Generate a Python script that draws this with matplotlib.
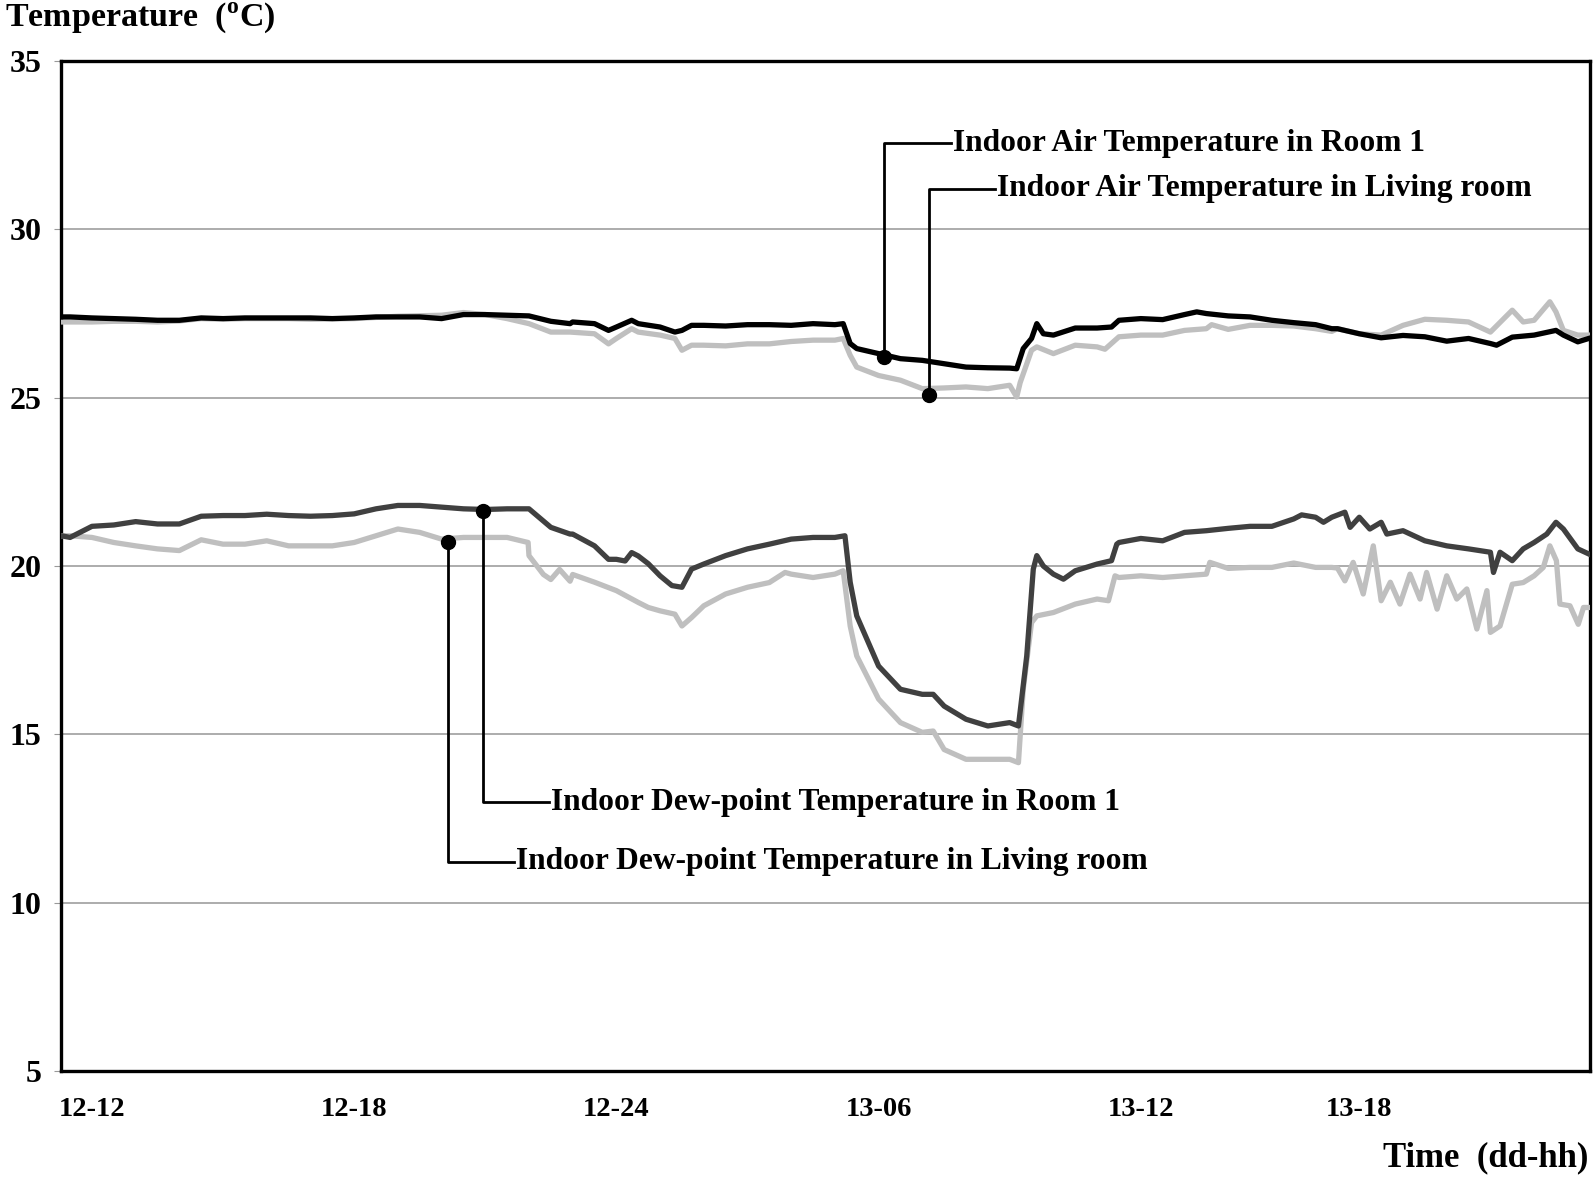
import matplotlib
matplotlib.use("Agg")
import matplotlib.pyplot as plt

plt.rcParams['font.family'] = ['Liberation Serif', 'DejaVu Serif']
plt.rcParams['font.weight'] = 'bold'
plt.rcParams['mathtext.fontset'] = 'custom'
plt.rcParams['mathtext.rm'] = 'Liberation Serif:bold'
plt.rcParams['mathtext.bf'] = 'Liberation Serif:bold'

# time in hours after 12-12 (day 12, 12 h)
air_room1_t = [-0.7, -0.5, 0, 0.5, 1, 1.5, 2, 2.5, 3, 3.5,
               4, 4.5, 5, 5.5, 6, 6.5, 7, 7.5, 8, 8.5,
               9, 9.5, 10, 10.5, 10.94, 11, 11.5, 11.82, 12, 12.35,
               12.5, 13, 13.34, 13.5, 13.72, 14, 14.5, 15, 15.5, 16,
               16.5, 17, 17.19, 17.35, 17.5, 18, 18.5, 19, 19.5, 20,
               20.5, 21, 21.16, 21.31, 21.5, 21.62, 21.77, 22, 22.5, 23,
               23.33, 23.5, 24, 24.5, 25, 25.28, 25.5, 26, 26.5, 27,
               27.5, 28, 28.37, 28.5, 29, 29.5, 30, 30.5, 31, 31.5,
               32, 32.14, 32.5, 33, 33.5, 33.67, 34, 34.25]
air_room1 = [27.40, 27.40, 27.37, 27.35, 27.33, 27.30, 27.30, 27.37, 27.35, 27.37,
             27.37, 27.37, 27.37, 27.35, 27.37, 27.40, 27.40, 27.40, 27.35, 27.47,
             27.47, 27.45, 27.43, 27.27, 27.20, 27.25, 27.20, 27.00, 27.10, 27.30,
             27.20, 27.10, 26.95, 27.00, 27.15, 27.15, 27.13, 27.17, 27.17, 27.15,
             27.20, 27.17, 27.20, 26.61, 26.46, 26.31, 26.16, 26.11, 26.01, 25.91,
             25.89, 25.88, 25.86, 26.46, 26.76, 27.20, 26.90, 26.86, 27.07, 27.07,
             27.10, 27.30, 27.35, 27.32, 27.47, 27.55, 27.50, 27.43, 27.40, 27.30,
             27.23, 27.17, 27.05, 27.05, 26.90, 26.78, 26.85, 26.81, 26.68, 26.76,
             26.61, 26.56, 26.80, 26.86, 27.00, 26.86, 26.66, 26.76]

air_living_t = [-0.7, -0.5, 0, 0.5, 1, 1.5, 2, 2.5, 3, 3.5,
                4, 4.5, 5, 6, 7, 8, 8.5, 9, 9.5, 10,
                10.5, 10.94, 11.5, 11.82, 12, 12.35, 12.5, 13, 13.34, 13.5,
                13.72, 14, 14.5, 15, 15.5, 16, 16.5, 17, 17.19, 17.35,
                17.5, 18, 18.5, 19, 19.5, 20, 20.5, 21, 21.16, 21.24,
                21.5, 21.62, 22, 22.5, 23, 23.18, 23.5, 24, 24.5, 25,
                25.5, 25.62, 26, 26.5, 27, 27.5, 28, 28.37, 28.5, 29,
                29.5, 30, 30.5, 31, 31.5, 32, 32.5, 32.75, 33, 33.36,
                33.5, 33.67, 34, 34.25]
air_living = [27.25, 27.25, 27.25, 27.27, 27.27, 27.25, 27.28, 27.35, 27.33, 27.35,
              27.35, 27.35, 27.33, 27.35, 27.42, 27.45, 27.53, 27.47, 27.35, 27.20,
              26.95, 26.95, 26.90, 26.60, 26.76, 27.05, 26.95, 26.86, 26.76, 26.41,
              26.56, 26.56, 26.54, 26.60, 26.60, 26.67, 26.71, 26.71, 26.76, 26.26,
              25.91, 25.66, 25.52, 25.27, 25.29, 25.32, 25.27, 25.37, 25.02, 25.45,
              26.41, 26.51, 26.31, 26.56, 26.51, 26.44, 26.81, 26.86, 26.86, 27.00,
              27.05, 27.17, 27.03, 27.15, 27.15, 27.13, 27.05, 26.97, 27.05, 26.90,
              26.86, 27.15, 27.33, 27.30, 27.25, 26.95, 27.60, 27.25, 27.30, 27.85,
              27.55, 27.00, 26.86, 26.86]

dew_room1_t = [-0.7, -0.5, 0, 0.5, 1, 1.5, 2, 2.5, 3, 3.5,
               4, 4.5, 5, 5.5, 6, 6.5, 7, 7.5, 8, 8.5,
               9, 9.5, 10, 10.5, 10.94, 11, 11.5, 11.82, 12, 12.2,
               12.35, 12.5, 12.73, 13, 13.27, 13.5, 13.72, 14, 14.5, 15,
               15.5, 16, 16.5, 17, 17.23, 17.35, 17.5, 18, 18.5, 19,
               19.25, 19.5, 20, 20.5, 21, 21.2, 21.39, 21.54, 21.62, 21.77,
               22, 22.23, 22.5, 23, 23.33, 23.45, 23.5, 24, 24.5, 25,
               25.5, 26, 26.5, 27, 27.5, 27.68, 28, 28.18, 28.37, 28.67,
               28.79, 29, 29.24, 29.5, 29.63, 30, 30.5, 31, 31.5, 32,
               32.07, 32.22, 32.5, 32.75, 33, 33.29, 33.5, 33.67, 34, 34.25]
dew_room1 = [20.90, 20.85, 21.18, 21.22, 21.32, 21.25, 21.25, 21.48, 21.50, 21.50,
             21.54, 21.50, 21.48, 21.50, 21.55, 21.70, 21.80, 21.80, 21.75, 21.70,
             21.68, 21.70, 21.70, 21.15, 20.95, 20.95, 20.60, 20.20, 20.20, 20.15,
             20.40, 20.30, 20.07, 19.71, 19.42, 19.37, 19.91, 20.06, 20.31, 20.51,
             20.65, 20.80, 20.85, 20.85, 20.90, 19.52, 18.52, 17.03, 16.34, 16.19,
             16.19, 15.84, 15.45, 15.25, 15.35, 15.25, 17.33, 19.91, 20.31, 20.00,
             19.76, 19.61, 19.86, 20.06, 20.16, 20.65, 20.70, 20.82, 20.75, 21.00,
             21.05, 21.12, 21.18, 21.18, 21.40, 21.52, 21.45, 21.30, 21.45, 21.60,
             21.15, 21.45, 21.10, 21.30, 20.95, 21.05, 20.75, 20.60, 20.51, 20.41,
             19.81, 20.41, 20.16, 20.51, 20.70, 20.95, 21.30, 21.10, 20.51, 20.36]

dew_living_t = [-0.7, -0.5, 0, 0.5, 1, 1.5, 2, 2.5, 3, 3.5,
                4, 4.5, 5, 5.5, 6, 6.5, 7, 7.5, 8, 8.5,
                9, 9.5, 9.98, 10.0, 10.33, 10.5, 10.7, 10.94, 11, 11.5,
                12, 12.5, 12.73, 13, 13.34, 13.5, 13.72, 14, 14.5, 15,
                15.5, 15.86, 16, 16.5, 17, 17.19, 17.35, 17.5, 18, 18.5,
                19, 19.25, 19.5, 20, 20.5, 21, 21.2, 21.31, 21.5, 21.62,
                22, 22.5, 23, 23.26, 23.41, 23.5, 24, 24.5, 25, 25.5,
                25.58, 26, 26.5, 27, 27.5, 28, 28.37, 28.5, 28.67, 28.86,
                29.09, 29.32, 29.5, 29.71, 29.93, 30.16, 30.39, 30.54, 30.78, 31.0,
                31.23, 31.46, 31.69, 31.92, 32.0, 32.22, 32.5, 32.75, 33.0, 33.21,
                33.36, 33.51, 33.59, 33.82, 34.01, 34.13, 34.25]
dew_living = [20.90, 20.90, 20.85, 20.70, 20.60, 20.51, 20.46, 20.78, 20.65, 20.65,
              20.75, 20.60, 20.60, 20.60, 20.70, 20.90, 21.10, 21.00, 20.80, 20.85,
              20.85, 20.85, 20.70, 20.31, 19.75, 19.60, 19.90, 19.55, 19.75, 19.52,
              19.27, 18.92, 18.77, 18.67, 18.57, 18.22, 18.47, 18.82, 19.17, 19.37,
              19.51, 19.81, 19.76, 19.66, 19.76, 19.86, 18.22, 17.33, 16.05, 15.35,
              15.06, 15.10, 14.55, 14.26, 14.26, 14.26, 14.16, 16.34, 18.32, 18.52,
              18.62, 18.87, 19.02, 18.97, 19.71, 19.66, 19.71, 19.66, 19.71, 19.76,
              20.11, 19.93, 19.96, 19.96, 20.09, 19.96, 19.96, 19.94, 19.56, 20.11,
              19.17, 20.60, 18.97, 19.52, 18.87, 19.76, 19.02, 19.81, 18.72, 19.71,
              19.02, 19.32, 18.13, 19.27, 18.03, 18.22, 19.46, 19.51, 19.71, 19.96,
              20.60, 20.16, 18.87, 18.82, 18.27, 18.77, 18.77]

tick_hours = [0, 6, 12, 18, 24, 29]
tick_labels = ['12-12', '12-18', '12-24', '13-06', '13-12', '13-18']

# label text, point on the curve, end of the leader line
callouts = [
    ('Indoor Air Temperature in Room 1', (18.12, 26.21), (19.66, 32.56)),
    ('Indoor Air Temperature in Living room', (19.15, 25.09), (20.66, 31.20)),
    ('Indoor Dew-point Temperature in Room 1', (8.95, 21.65), (10.46, 12.99)),
    ('Indoor Dew-point Temperature in Living room', (8.15, 20.70), (9.66, 11.21)),
]

fig = plt.figure(figsize=(15.95, 11.81), dpi=100)
ax = fig.add_axes([0.0382, 0.0931, 0.9587, 0.8552])

ax.plot(air_living_t, air_living, color='#bfbfbf', lw=3.8, zorder=3)
ax.plot(air_room1_t, air_room1, color='black', lw=3.8, zorder=4)
ax.plot(dew_living_t, dew_living, color='#bfbfbf', lw=3.8, zorder=3)
ax.plot(dew_room1_t, dew_room1, color='#404040', lw=3.8, zorder=4)

for label, (px, py), (ex, ey) in callouts:
    ax.plot([px, px, ex], [py, ey, ey], color='black', lw=2, zorder=5)
    ax.plot(px, py, 'o', color='black', ms=10, zorder=6)
    ax.text(ex + 0.05, ey, label, fontsize=22.7, fontweight='bold',
            va='center', ha='left', zorder=6)

ax.set_xlim(-0.71, 34.28)
ax.set_ylim(5, 35)
ax.set_yticks([5, 10, 15, 20, 25, 30, 35])
ax.set_xticks(tick_hours)
ax.set_xticklabels(tick_labels)
ax.grid(axis='y', color='#a6a6a6', lw=1.3)
ax.set_axisbelow(True)
ax.tick_params(axis='x', length=0, pad=19, labelsize=20.5)
ax.tick_params(axis='y', length=5, color='#999999', pad=9, labelsize=23)
for lab in ax.get_xticklabels() + ax.get_yticklabels():
    lab.set_fontweight('bold')
for side in ['left', 'right', 'top', 'bottom']:
    ax.spines[side].set_linewidth(2.4)
    ax.spines[side].set_color('black')

fig.text(0.003, 0.985, r'Temperature  ($^{\mathbf{o}}$C)', fontsize=24.5,
         fontweight='bold', va='center', ha='left')
fig.text(0.996, 0.02, 'Time  (dd-hh)', fontsize=25, fontweight='bold',
         va='center', ha='right')

fig.savefig('out.png', dpi=100)
